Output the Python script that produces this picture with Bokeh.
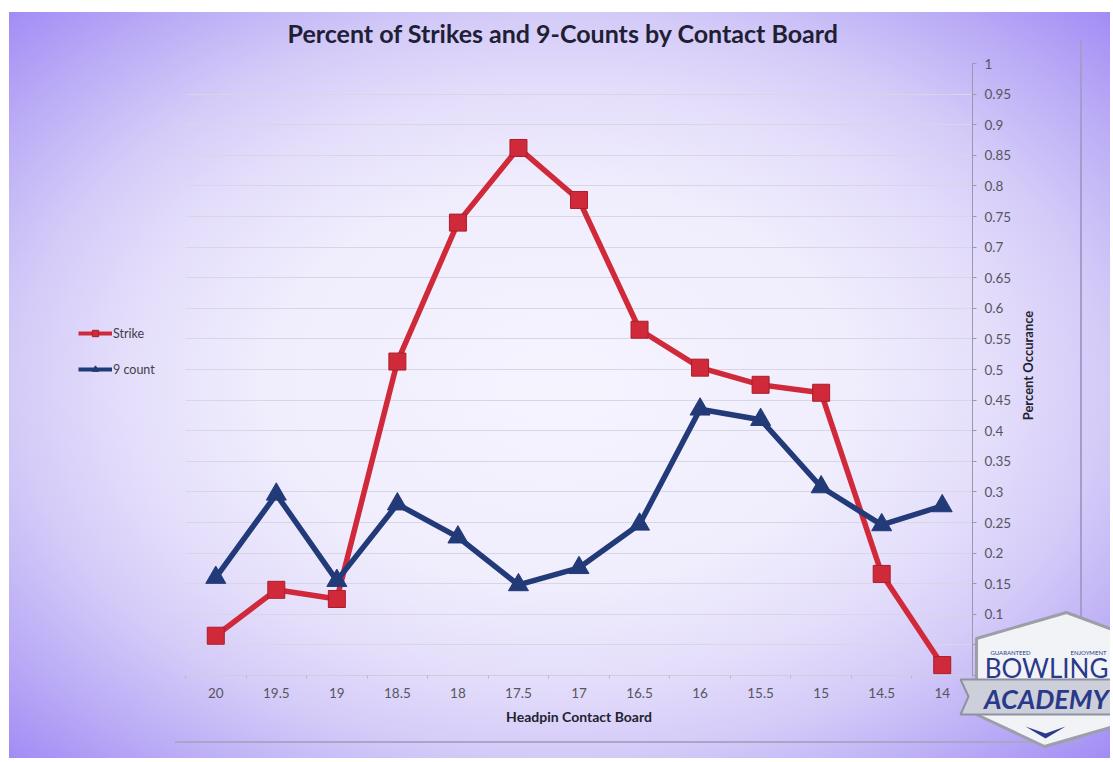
from math import pi
from bokeh.plotting import figure
from bokeh.layouts import column
from bokeh.models import (FixedTicker, Legend, LegendItem, Label, Range1d)
from bokeh.embed import file_html
from bokeh.resources import INLINE

# ---- data -------------------------------------------------------------
boards = ["20", "19.5", "19", "18.5", "18", "17.5", "17", "16.5", "16", "15.5", "15", "14.5", "14"]
strike = [0.065, 0.140, 0.125, 0.513, 0.740, 0.862, 0.777, 0.565, 0.503, 0.475, 0.462, 0.166, 0.017]
nine_count = [0.160, 0.296, 0.155, 0.280, 0.226, 0.148, 0.176, 0.247, 0.435, 0.418, 0.308, 0.246, 0.277]
y_ticks = [0, 0.05, 0.1, 0.15, 0.2, 0.25, 0.3, 0.35, 0.4, 0.45, 0.5, 0.55, 0.6,
           0.65, 0.7, 0.75, 0.8, 0.85, 0.9, 0.95, 1]
series_names = ["Strike", "9 count"]

x = list(range(len(boards)))

FONT = "Lato"
RED = "#d02a3a"
NAVY = "#233a78"
NAN = float("nan")

W, H = 1110, 758
p = figure(width=W, height=H, output_backend="svg", toolbar_location=None,
           x_range=Range1d(-0.5, len(boards) - 0.5), y_range=Range1d(0, 1),
           y_axis_location="right",
           min_border_left=185, min_border_right=W - 972, min_border_top=61,
           min_border_bottom=H - 675,
           title="Percent of Strikes and 9-Counts by Contact Board")

p.border_fill_color = None
p.background_fill_color = None
p.outline_line_color = None
p.styles = {
    "background": (
        "linear-gradient(#a39ccc,#a39ccc) 1080px 40px / 2px 698px no-repeat, "
        "linear-gradient(#a9a6c8,#a9a6c8) 175px 741px / 906px 2px no-repeat, "
        "radial-gradient(ellipse farthest-corner at 50% 50%, #f5f4fe 0%, #f0edfd 38%, "
        "#e4defb 56%, #d4cbf8 70%, #bcadf6 85%, #a28cf5 100%) 9px 12px / "
        "calc(100% - 9px) calc(100% - 12px) no-repeat, #ffffff"
    )
}

# title
p.title.text_font = FONT
p.title.text_font_size = "25px"
p.title.text_font_style = "bold"
p.title.text_color = "#202034"
p.title.align = "left"
p.title.offset = 102
p.title.standoff = 31

# grid
p.xgrid.visible = False
p.ygrid.grid_line_color = "#d8d6e4"
p.ygrid.grid_line_width = 1.2

# x axis
xa = p.xaxis[0]
xa.ticker = FixedTicker(ticks=x, minor_ticks=[i - 0.5 for i in range(len(boards) + 1)])
xa.major_label_overrides = {i: b for i, b in enumerate(boards)}
xa.major_tick_out = 0
xa.major_tick_in = 0
xa.minor_tick_out = 3
xa.minor_tick_in = 0
xa.minor_tick_line_color = "#b8b6c8"
xa.axis_line_color = "#cfcddc"
xa.major_label_text_font = FONT
xa.major_label_text_font_size = "13.5px"
xa.major_label_text_color = "#56565e"
xa.major_label_standoff = 9
xa.axis_label = "Headpin Contact Board"
xa.axis_label_text_font = FONT
xa.axis_label_text_font_size = "14px"
xa.axis_label_text_font_style = "bold"
xa.axis_label_text_color = "#222230"
xa.axis_label_standoff = 7

# y axis (right)
ya = p.yaxis[0]
ya.ticker = FixedTicker(ticks=y_ticks)
ya.major_label_overrides = {t: ("" if t < 0.1 else f"{t:g}") for t in y_ticks}
ya.minor_tick_line_color = None
ya.major_tick_out = 4
ya.major_tick_in = 0
ya.major_tick_line_color = "#9a98b0"
ya.axis_line_color = "#9a98b0"
ya.major_label_text_font = FONT
ya.major_label_text_font_size = "13.5px"
ya.major_label_text_color = "#56565e"
ya.major_label_standoff = 8

# series
p.line(x, strike, line_color=RED, line_width=5.5, line_join="round")
p.scatter(x, strike, marker="square", size=17, fill_color=RED,
          line_color="#a81e2c", line_width=1)
p.line(x, nine_count, line_color=NAVY, line_width=5.5, line_join="round")
p.scatter(x, nine_count, marker="triangle", size=20, fill_color=NAVY,
          line_color=NAVY, line_width=1)

# ---- overlay canvas (page pixel space) for legend, y title and badge ----
q = figure(width=W, height=H, output_backend="svg", toolbar_location=None,
           x_range=Range1d(0, W), y_range=Range1d(H, 0),
           x_axis_type=None, y_axis_type=None, min_border=0)
q.grid.visible = False
q.outline_line_color = None
q.border_fill_color = None
q.background_fill_color = None

# legend proxies (styled like the series; they draw nothing on the canvas)
lr1 = q.line([NAN], [NAN], line_color=RED, line_width=4)
ls1 = q.scatter([NAN], [NAN], marker="square", size=8, fill_color=RED, line_color="#a81e2c")
lr2 = q.line([NAN], [NAN], line_color=NAVY, line_width=4)
ls2 = q.scatter([NAN], [NAN], marker="triangle", size=8, fill_color=NAVY, line_color=NAVY)
legend = Legend(items=[LegendItem(label=series_names[0], renderers=[lr1, ls1]),
                       LegendItem(label=series_names[1], renderers=[lr2, ls2])],
                location=(78, H - 377), orientation="vertical")
legend.background_fill_alpha = 0
legend.border_line_color = None
legend.label_text_font = FONT
legend.label_text_font_size = "12.5px"
legend.label_text_color = "#404048"
legend.glyph_width = 34
legend.glyph_height = 16
legend.label_standoff = 1
legend.spacing = 20
legend.padding = 0
legend.margin = 0
q.add_layout(legend)

# y axis title, reading bottom to top
q.add_layout(Label(x=1027, y=365, text="Percent Occurance", angle=pi / 2,
                   text_align="center", text_baseline="middle", text_font=FONT,
                   text_font_size="13px", text_font_style="bold", text_color="#222230"))

# badge in the lower right corner
shield_x = [1066, 1120, 1120, 1044, 976, 976]
shield_y = [612, 632, 724, 746, 714, 638]
q.patch(shield_x, shield_y, fill_color="#f2f3f7", line_color="#9c9ea8", line_width=3)
banner_x = [960, 1120, 1120, 960, 968]
banner_y = [679, 679, 714, 714, 696]
q.patch(banner_x, banner_y, fill_color="#cdd0da", line_color="#8e92a0", line_width=2)
q.patch([1025, 1045, 1065, 1045], [726, 733, 726, 738], fill_color="#2a398a",
        line_color=None)
for txt, px_, py_, size, style in [("BOWLING", 1046, 667, "26px", "normal"),
                                   ("ACADEMY", 1046, 698, "27px", "bold italic"),
                                   ("GUARANTEED", 1010, 652, "6px", "normal"),
                                   ("ENJOYMENT", 1088, 652, "6px", "normal")]:
    q.add_layout(Label(x=px_, y=py_, text=txt, text_align="center",
                       text_baseline="middle", text_font=FONT, text_font_size=size,
                       text_font_style=style, text_color="#2a398a"))

overlay = column(q, styles={"position": "absolute", "top": "0px", "left": "0px",
                            "pointer-events": "none"})
layout = column(p, overlay)
open("out.html", "w").write(file_html(layout, INLINE))
